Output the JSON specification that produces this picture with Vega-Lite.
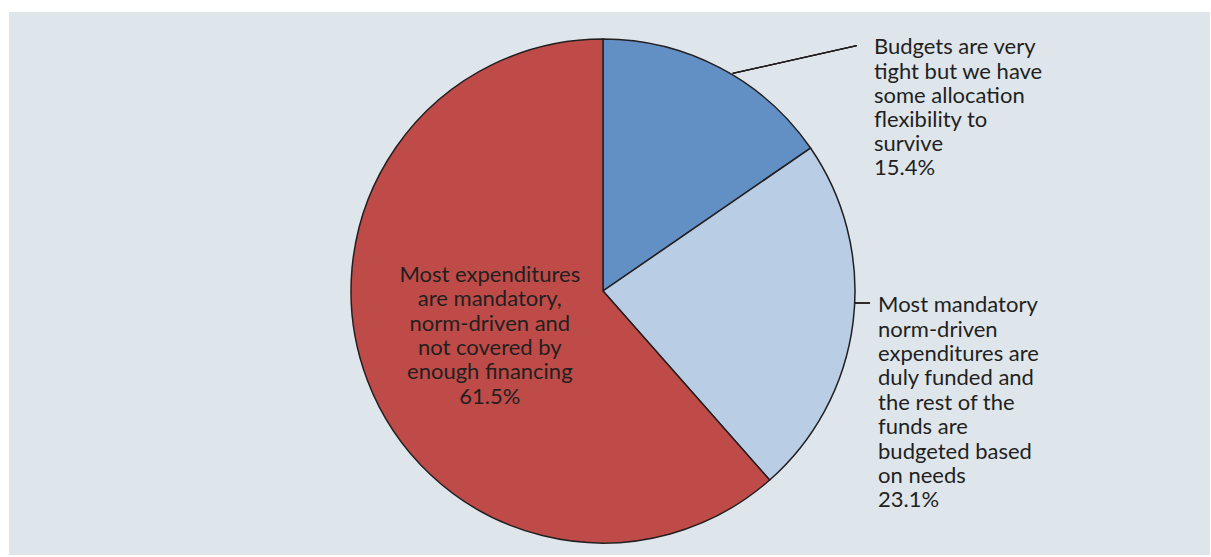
{
  "$schema": "https://vega.github.io/schema/vega-lite/v6.json",
  "width": 1211,
  "height": 557,
  "autosize": {"type": "fit", "contains": "padding"},
  "padding": {"left": 9, "top": 12, "right": 1, "bottom": 2},
  "background": "white",
  "config": {"view": {"fill": "#dee6ec", "stroke": null}},
  "data": {
    "values": [
      {"cat": "tight", "value": 15.4, "label": "Budgets are very\ntight but we have\nsome allocation\nflexibility to\nsurvive\n15.4%"},
      {"cat": "funded", "value": 23.1, "label": "Most mandatory\nnorm-driven\nexpenditures are\nduly funded and\nthe rest of the\nfunds are\nbudgeted based\non needs\n23.1%"},
      {"cat": "mandatory", "value": 61.5, "label": "Most expenditures\nare mandatory,\nnorm-driven and\nnot covered by\nenough financing\n61.5%"}
    ]
  },
  "encoding": {
    "theta": {"field": "value", "type": "quantitative", "stack": true},
    "order": {"field": "value", "type": "quantitative", "sort": "ascending"},
    "x": {"value": 594},
    "y": {"value": 279}
  },
  "layer": [
    {
      "mark": {"type": "arc", "outerRadius": 252, "stroke": "#231f20", "strokeWidth": 1.5},
      "encoding": {
        "color": {
          "field": "cat", "type": "nominal",
          "scale": {"domain": ["tight", "funded", "mandatory"], "range": ["#628fc4", "#b9cde4", "#be4b48"]},
          "legend": null
        }
      }
    },
    {
      "mark": {"type": "text", "radius": 121, "dy": -59, "align": "center", "baseline": "middle", "lineBreak": "\n", "lineHeight": 24.4, "font": "Lato", "fontSize": 22, "fill": "#231f20"},
      "encoding": {
        "detail": {"field": "cat", "type": "nominal"},
        "text": {"condition": {"test": "datum.cat === 'mandatory'", "field": "label", "type": "nominal"}, "value": ""}
      }
    },
    {
      "mark": {"type": "text", "radius": 260, "dx": 150, "dy": -13.5, "align": "left", "baseline": "middle", "lineBreak": "\n", "lineHeight": 24.2, "font": "Lato", "fontSize": 22, "fill": "#231f20"},
      "encoding": {
        "detail": {"field": "cat", "type": "nominal"},
        "text": {"condition": {"test": "datum.cat === 'tight'", "field": "label", "type": "nominal"}, "value": ""}
      }
    },
    {
      "mark": {"type": "text", "radius": 260, "dx": 17, "dy": -17.5, "align": "left", "baseline": "middle", "lineBreak": "\n", "lineHeight": 24.4, "font": "Lato", "fontSize": 22, "fill": "#231f20"},
      "encoding": {
        "detail": {"field": "cat", "type": "nominal"},
        "text": {"condition": {"test": "datum.cat === 'funded'", "field": "label", "type": "nominal"}, "value": ""}
      }
    },
    {
      "mark": {"type": "rule", "stroke": "#231f20", "strokeWidth": 1.2},
      "encoding": {"x": {"value": 723.7}, "y": {"value": 61.3}, "x2": {"value": 847.7}, "y2": {"value": 33.7}}
    },
    {
      "mark": {"type": "rule", "stroke": "#231f20", "strokeWidth": 1.2},
      "encoding": {"x": {"value": 846}, "y": {"value": 291}, "x2": {"value": 861}, "y2": {"value": 291}}
    }
  ]
}
